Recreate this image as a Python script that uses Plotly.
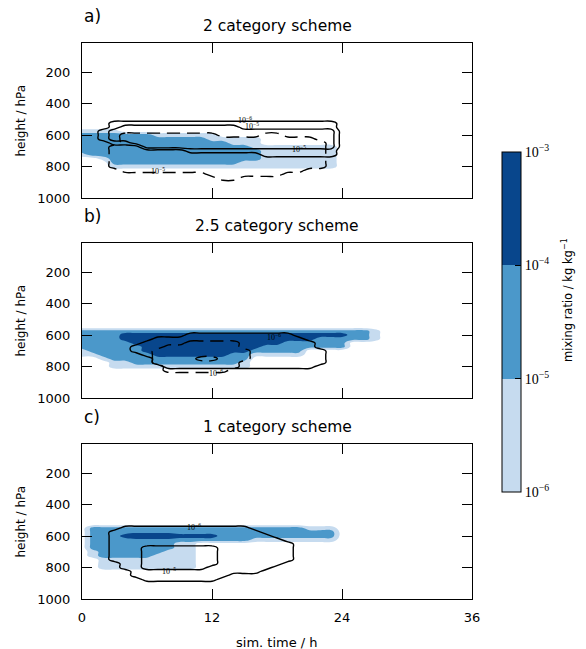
import numpy as np
import plotly.graph_objects as go

# ---------------- data ----------------
# grid: simulation time (h) and pressure (hPa)
time_h = [0, 1, 2, 3, 4, 5, 6, 7, 8, 9, 10, 11, 12, 13, 14, 15, 16, 17, 18, 19,
          20, 21, 22, 23, 24, 25, 26, 27, 28]
pressure_hpa = [475, 500, 525, 550, 575, 600, 625, 650, 675, 700, 725, 750, 775,
                800, 825, 850, 875, 900, 925]

# Each string = one time step; each character = one pressure level (475 -> 925 hPa).
# Digit d encodes log10 mixing ratio = d - 6.5
# (0 -> <1e-6, 1 -> 1e-6..1e-5, 2 -> 1e-5..1e-4, 3/4 -> >1e-4)
Z0 = "0000000000000000000"
Z1 = "1111111111111111111"

fill_a = (["0000122222100000000", "0000122222200000000", "0000122222210000000",
           "0000122222222100000"] + ["0000022222222100000"] * 3
          + ["0000012222222100000"] * 5
          + ["0000011222222100000", "0000001222222100000", "0000001122222100000",
             "0000001122221100000", "0000001112221100000"]
          + ["0000000011111100000"] * 7 + [Z0] * 5)
solid_a = ([Z0, Z0, "0000111000000000000", "0011222100000000000", "0012222100000000000",
            "0012222200000000000"] + ["0012222220000000000"] * 4
           + ["0012222221000000000"] * 5 + ["0011222221000000000"] * 2
           + ["0011222221100000000"] * 7 + [Z0] * 5)
dashed_a = ([Z1] * 3 + ["1111111122222211111"] + ["1111122222222221111"] * 8
            + ["1111122222222222111"] + ["1111112222222222211"] * 2
            + ["1111112222222222111"] * 2 + ["1111122222222222111"] * 2
            + ["1111112222222221111"] * 2 + ["1111112222222211111", "1111111222222211111"]
            + [Z1] * 6)

fill_b = (["0000222221100000000", "0000222222100000000", "0000222222210000000",
           "0000222222221100000", "0000233222221100000", "0000233322222100000",
           "0000233333222100000"] + ["0000233333322100000"] * 7
          + ["0000233333222100000", "0000233333221100000", "0000233332100000000"]
          + ["0000233322100000000"] * 2 + ["0000233222100000000"] * 2
          + ["0000233220000000000"] + ["0000232220000000000"] * 3
          + ["0000222000000000000"] * 2 + ["0000111000000000000", Z0])
solid_b = ([Z0] * 5 + ["0000000011000000000", "0000000111100000000", "0000001111111000000"]
           + ["0000001111111100000"] * 2 + ["0000011111111100000"] * 10
           + ["0000001111111100000", "0000000111111100000", "0000000001111000000"]
           + [Z0] * 6)
dashed_b = ([Z0] * 7 + ["0000000001111000000"] + ["0000000011111110000"] * 2
            + ["0000000111111110000"] + ["0000000111121110000"] * 2
            + ["0000000111111110000", "0000000111111100000", "0000000001110000000"]
            + [Z0] * 13)

fill_c = ([Z0, "0002222221100000000"] + ["0002222222211100000"] * 2
          + ["0002232222211100000"]
          + ["0002242222211100000"] * 2
          + ["0002242222111100000", "0002242221111100000"]
          + ["0002232111111100000"] * 2 + ["0002232000000000000"] * 2
          + ["0002222000000000000"] * 3 + ["0002221000000000000"] * 5
          + ["0001221000000000000"] * 3 + [Z0] * 5)
solid_c = ([Z0] * 3 + ["0000111111110000000", "0001111111111100000", "0001111111111111000"]
           + ["0001111122222211100"] * 6
           + ["0001111122222111100", "0001111111111111000"]
           + ["0001111111111110000"] * 2
           + ["0000111111111110000", "0000011111111100000", "0000001111111000000",
              "0000000111110000000"] + [Z0] * 9)

# contour labels: (panel, text, time, pressure)
label_panel = [1, 1, 1, 1, 2, 2, 3, 3]
label_text = ["10<sup>−6</sup>", "10<sup>−5</sup>", "10<sup>−5</sup>", "10<sup>−5</sup>",
              "10<sup>−6</sup>", "10<sup>−6</sup>", "10<sup>−6</sup>", "10<sup>−5</sup>"]
label_t = [15.0, 15.7, 20.0, 7.0, 17.7, 12.4, 10.3, 8.0]
label_p = [503, 545, 686, 826, 611, 840, 543, 821]

panel_letters = ["a)", "b)", "c)"]
panel_titles = ["2 category scheme", "2.5 category scheme", "1 category scheme"]
cbar_vals = [-6, -5, -4, -3]
cbar_text = ["10<sup>−6</sup>", "10<sup>−5</sup>", "10<sup>−4</sup>", "10<sup>−3</sup>"]
x_ticks = [0, 12, 24, 36]
y_ticks = [200, 400, 600, 800, 1000]

# ---------------- styling ----------------
LIGHT = "#c6dbef"
MID = "#4b98ca"
DARK = "#08468c"
W, H = 586, 649
ML, MR, MT, MB = 82, 114, 43, 50
PW, PH = W - ML - MR, H - MT - MB


def field(cols):
    codes = np.array([[int(ch) for ch in c] for c in cols], dtype=float)
    assert codes.shape == (len(time_h), len(pressure_hpa)), codes.shape
    return (codes.T - 6.5)


def py2paper(py):
    return (H - MB - py) / PH


def px2paper(px):
    return (px - ML) / PW


fig = go.Figure()
panels = [(fill_a, solid_a, dashed_a), (fill_b, solid_b, dashed_b), (fill_c, solid_c, None)]
fill_scale = [[0, "rgba(255,255,255,0)"], [1 / 3, LIGHT], [2 / 3, MID], [1, DARK]]

for i, (f, s, d) in enumerate(panels):
    xa = "x" if i == 0 else f"x{i+1}"
    ya = "y" if i == 0 else f"y{i+1}"
    fig.add_trace(go.Contour(
        x=time_h, y=pressure_hpa, z=field(f), autocontour=False,
        contours=dict(start=-6, end=-4, size=1, coloring="fill", showlines=False),
        colorscale=fill_scale, line=dict(width=0, smoothing=1.3),
        showscale=False, hoverinfo="skip", xaxis=xa, yaxis=ya))
    if d is not None:
        fig.add_trace(go.Contour(
            x=time_h, y=pressure_hpa, z=field(d), autocontour=False,
            contours=dict(start=-6, end=-5, size=1, coloring="none"),
            line=dict(color="black", width=1.4, smoothing=1.3, dash="13px,7px"),
            showscale=False, hoverinfo="skip", xaxis=xa, yaxis=ya))
    fig.add_trace(go.Contour(
        x=time_h, y=pressure_hpa, z=field(s), autocontour=False,
        contours=dict(start=-6, end=-5, size=1, coloring="none"),
        line=dict(color="black", width=1.4, smoothing=1.3),
        showscale=False, hoverinfo="skip", xaxis=xa, yaxis=ya))

# colorbar carrier
cscale = [[0, LIGHT], [1 / 3, LIGHT], [1 / 3, MID], [2 / 3, MID], [2 / 3, DARK], [1, DARK]]
fig.add_trace(go.Scatter(
    x=[None], y=[None], mode="markers", showlegend=False, hoverinfo="skip",
    marker=dict(color=[-6], cmin=-6, cmax=-3, colorscale=cscale, showscale=True,
                colorbar=dict(thickness=19, thicknessmode="pixels", len=340, lenmode="pixels",
                              x=px2paper(502), xanchor="left", y=py2paper(322), yanchor="middle",
                              xpad=0, ypad=0, outlinewidth=1, outlinecolor="black",
                              tickvals=cbar_vals, ticktext=cbar_text, ticks="inside",
                              ticklen=6, tickcolor="black", tickwidth=1,
                              tickfont=dict(family="Liberation Serif", size=14, color="black"))),
    xaxis="x", yaxis="y"))

domains = [(py2paper(198), 1.0), (py2paper(398), py2paper(243)), (0.0, py2paper(444))]
axis_common = dict(ticks="inside", ticklen=10, tickwidth=1, tickcolor="black",
                   showline=True, linecolor="black", linewidth=1, mirror="ticks",
                   showgrid=False, zeroline=False,
                   tickfont=dict(family="DejaVu Sans", size=13, color="black"))
layout = dict(width=W, height=H, margin=dict(l=ML, r=MR, t=MT, b=MB),
              paper_bgcolor="white", plot_bgcolor="white", showlegend=False,
              font=dict(family="DejaVu Sans", color="black"))
for i in range(3):
    xk = "xaxis" if i == 0 else f"xaxis{i+1}"
    yk = "yaxis" if i == 0 else f"yaxis{i+1}"
    ya = "y" if i == 0 else f"y{i+1}"
    xa = "x" if i == 0 else f"x{i+1}"
    layout[xk] = dict(axis_common, range=[0, 36], tickvals=x_ticks, anchor=ya,
                      domain=[0, 1], showticklabels=(i == 2), ticklabelstandoff=6)
    layout[yk] = dict(axis_common, range=[1000, 15], tickvals=y_ticks, anchor=xa,
                      domain=list(domains[i]), ticklabelstandoff=8)
fig.update_layout(**layout)

ann = []
letter_py = [16, 216, 417]
title_py = [26, 226, 427]
for i in range(3):
    ann.append(dict(text=panel_letters[i], x=0, y=py2paper(letter_py[i]), xref="paper", yref="paper",
                    xanchor="left", yanchor="middle", showarrow=False,
                    font=dict(family="DejaVu Sans", size=17, color="black")))
    ann.append(dict(text=panel_titles[i], x=0.5, y=py2paper(title_py[i]), xref="paper", yref="paper",
                    xanchor="center", yanchor="middle", showarrow=False,
                    font=dict(family="DejaVu Sans", size=15.5, color="black")))
    ann.append(dict(text="height / hPa", x=px2paper(20), y=(domains[i][0] + domains[i][1]) / 2,
                    xref="paper", yref="paper", textangle=-90, xanchor="center", yanchor="middle",
                    showarrow=False, font=dict(family="DejaVu Sans", size=12, color="black")))
ann.append(dict(text="sim. time / h", x=0.5, y=py2paper(642), xref="paper", yref="paper",
                xanchor="center", yanchor="middle", showarrow=False,
                font=dict(family="DejaVu Sans", size=13, color="black")))
ann.append(dict(text="mixing ratio / kg kg<sup>−1</sup>", x=px2paper(567), y=py2paper(300),
                xref="paper", yref="paper", textangle=-90, xanchor="center", yanchor="middle",
                showarrow=False, font=dict(family="DejaVu Sans", size=11.5, color="black")))
for pn, tx, t, p in zip(label_panel, label_text, label_t, label_p):
    ann.append(dict(text=tx, x=t, y=p, xref="x" if pn == 1 else f"x{pn}",
                    yref="y" if pn == 1 else f"y{pn}", showarrow=False,
                    font=dict(family="Liberation Serif", size=8, color="black")))
fig.update_layout(annotations=ann)

fig.write_html("out.html")
